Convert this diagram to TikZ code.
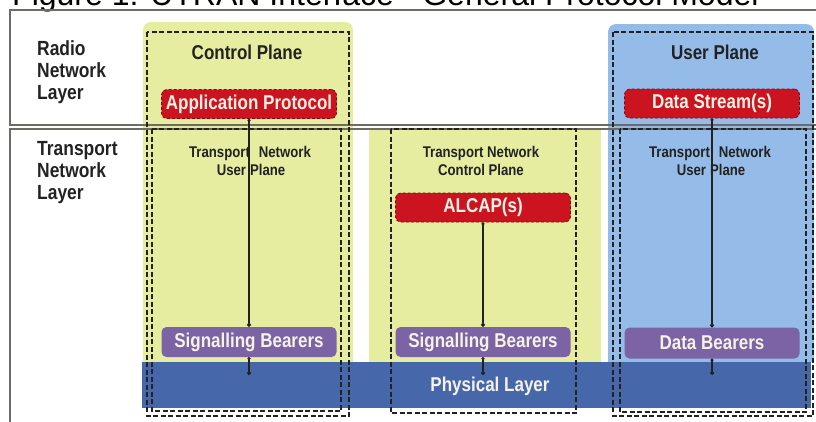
\documentclass[tikz,border=0pt]{standalone}
\usepackage{fontspec}
\setmainfont{Liberation Sans}[FakeStretch=0.85]
\newfontfamily\titlefont{Liberation Sans}
\usetikzlibrary{arrows.meta}
\definecolor{cpyellow}{HTML}{E7EDA0}
\definecolor{upblue}{HTML}{95BCE8}
\definecolor{physblue}{HTML}{4668AB}
\definecolor{bearer}{HTML}{7B63A6}
\definecolor{protored}{HTML}{CC1421}
\definecolor{protoedge}{HTML}{7A0A10}
\definecolor{framegray}{HTML}{6E6A66}
\definecolor{ink}{HTML}{222222}
\definecolor{cream}{HTML}{F7F2E4}
\begin{document}
\begin{tikzpicture}[x=1pt,y=-1pt,
  frame/.style={draw=framegray, line width=2pt},
  dashbox/.style={draw=ink, line width=1.1pt, dash pattern=on 5pt off 2.5pt},
  protobox/.style={fill=protored, draw=protoedge, line width=0.8pt, densely dashed,
    rounded corners=5pt, minimum width=175pt, minimum height=29pt, inner sep=0pt,
    text=cream, font=\bfseries\fontsize{20}{22}\selectfont},
  bearerbox/.style={fill=bearer, rounded corners=5pt, minimum width=175pt,
    minimum height=30pt, inner sep=0pt, text=cream, font=\bfseries\fontsize{20}{22}\selectfont},
  planelabel/.style={text=ink, font=\bfseries\fontsize{20}{22}\selectfont},
  layerlabel/.style={text=ink, align=left, anchor=west, inner sep=0pt,
    font=\bfseries\fontsize{20.5}{22}\selectfont},
  smalllabel/.style={text=ink, align=center, inner sep=0pt,
    font=\bfseries\fontsize{15.5}{18}\selectfont},
  conn/.style={draw=ink, line width=1.2pt, {Circle[length=3pt]}-{Circle[length=4pt]}}
]
\useasboundingbox (0,0) rectangle (816,421);
\begin{scope}
\clip (0,0) rectangle (816,421);
% title (cut off at the top, as in the reference)
\node[anchor=base west, inner sep=0pt, text=black,
  font=\titlefont\fontsize{32}{38}\selectfont] (title) at (12,5)
  {Figure 1: UTRAN Interface - General Protocol Model};
% backgrounds
\fill[cpyellow, rounded corners=8pt] (143,22) rectangle (353,362);
\fill[cpyellow] (143,340) rectangle (353,362);
\fill[cpyellow] (369,130) rectangle (601,362);
\fill[upblue, rounded corners=8pt] (608,24) rectangle (814,362);
\fill[upblue] (608,340) rectangle (814,362);
\fill[physblue] (142,362) rectangle (811,408);
% layer frames
\draw[frame] (10,10) rectangle (830,125);
\draw[frame] (10,129) rectangle (830,440);
% dashed boxes
\draw[dashbox] (147,32) rectangle (349,416);
\draw[dashbox] (152,129) rectangle (341,411);
\draw[dashbox] (391,129) rectangle (576,413);
\draw[dashbox] (613,32) rectangle (813,416);
\draw[dashbox] (620,129) rectangle (806,412);
% layer labels
\node[layerlabel] (rnl) at (37,72) {Radio\\Network\\Layer};
\node[layerlabel] (tnl) at (37,173) {Transport\\Network\\Layer};
% plane labels
\node[planelabel] (cpl) at (247,52) {Control Plane};
\node[planelabel] (upl) at (715,52) {User Plane};
% small labels
\node[smalllabel] (tnup1) at (250,161) {Transport\hspace{9pt}Network\\\hspace{2pt}User\hspace{4pt}Plane};
\node[smalllabel] (tncp) at (481,161) {Transport Network\\Control Plane};
\node[smalllabel] (tnup2) at (710,161) {Transport\hspace{9pt}Network\\\hspace{2pt}User\hspace{4pt}Plane};
% protocol boxes
\node[protobox] (ap) at (249,104) {Application Protocol};
\node[protobox] (alcap) at (483,207.5) {ALCAP(s)};
\node[protobox] (ds) at (712,103.5) {Data Stream(s)};
% bearers
\node[bearerbox] (sb1) at (249,342) {Signalling Bearers};
\node[bearerbox] (sb2) at (483,342) {Signalling Bearers};
\node[bearerbox, minimum height=31pt] (db) at (712,343) {Data Bearers};
% physical layer label
\node[text=cream, font=\bfseries\fontsize{20}{22}\selectfont] (phl) at (490,386) {Physical Layer};
\coordinate (p1) at (249,375);
\coordinate (p2) at (483,375);
\coordinate (p3) at (712,375);
% connectors
\draw[conn] (ap) -- (sb1);
\draw[conn] (alcap) -- (sb2);
\draw[conn] (ds) -- (db);
\draw[conn] (sb1) -- (p1);
\draw[conn] (sb2) -- (p2);
\draw[conn] (db) -- (p3);
\end{scope}
\end{tikzpicture}
\end{document}
